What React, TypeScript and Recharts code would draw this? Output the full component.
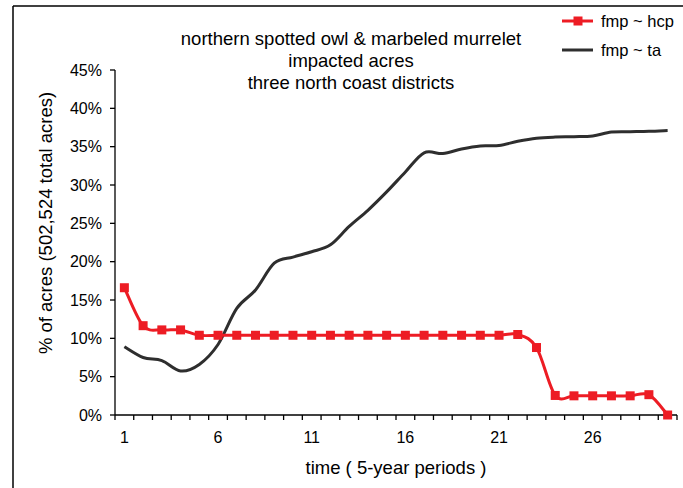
import { LineChart, Line, XAxis, YAxis } from "recharts";

// periods (5-year) and % of acres impacted
const periods = [
  1, 2, 3, 4, 5, 6, 7, 8, 9, 10, 11, 12, 13, 14, 15, 16, 17, 18, 19, 20, 21,
  22, 23, 24, 25, 26, 27, 28, 29, 30,
];
const fmpHcp = [
  16.6, 11.65, 11.1, 11.1, 10.4, 10.4, 10.4, 10.4, 10.4, 10.4, 10.4, 10.4,
  10.4, 10.4, 10.4, 10.4, 10.4, 10.4, 10.4, 10.4, 10.4, 10.5, 8.8, 2.55, 2.5,
  2.5, 2.5, 2.5, 2.65, 0,
];
const fmpTa = [
  8.9, 7.5, 7.1, 5.75, 6.6, 9.2, 13.9, 16.3, 19.8, 20.6, 21.3, 22.2, 24.6,
  26.7, 29.1, 31.7, 34.2, 34.1, 34.7, 35.1, 35.15, 35.7, 36.1, 36.25, 36.3,
  36.4, 36.9, 36.95, 37.0, 37.1,
];
const yTicks = [0, 5, 10, 15, 20, 25, 30, 35, 40, 45];
const xTickLabels = [1, 6, 11, 16, 21, 26];
const titleLines = [
  "northern spotted owl & marbeled murrelet",
  "impacted acres",
  "three north coast districts",
];

const data = periods.map((p, i) => ({ period: p, hcp: fmpHcp[i], ta: fmpTa[i] }));
// tick marks sit between the periods, like excel's category axis
const bounds = [...periods.map((p) => p - 0.5), periods[periods.length - 1] + 0.5];

const RED = "#ed1c24";
const DARK = "#2e2e2e";
const FONT = "'Liberation Sans', Arial, sans-serif";

const W = 683;
const H = 488;
const margin = { top: 70, right: 6, bottom: 43, left: 55 };
const Y_AXIS_W = 60;
const bandW = (W - margin.left - Y_AXIS_W - margin.right) / periods.length;

// excel-like smoothed line (catmull-rom through the points)
const smooth = (context: any) => {
  let pts: number[][] = [];
  return {
    areaStart() {},
    areaEnd() {},
    lineStart() {
      pts = [];
    },
    point(x: number, y: number) {
      pts.push([x, y]);
    },
    lineEnd() {
      if (!pts.length) return;
      context.moveTo(pts[0][0], pts[0][1]);
      for (let i = 0; i < pts.length - 1; i++) {
        const p0 = pts[Math.max(i - 1, 0)];
        const p1 = pts[i];
        const p2 = pts[i + 1];
        const p3 = pts[Math.min(i + 2, pts.length - 1)];
        context.bezierCurveTo(
          p1[0] + (p2[0] - p0[0]) / 6,
          p1[1] + (p2[1] - p0[1]) / 6,
          p2[0] - (p3[0] - p1[0]) / 6,
          p2[1] - (p3[1] - p1[1]) / 6,
          p2[0],
          p2[1]
        );
      }
    },
  };
};

const SquareDot = (props: any) => {
  const { cx, cy, index } = props;
  return <rect key={`sq-${index}`} x={cx - 4.5} y={cy - 4.5} width={9} height={9} fill={RED} />;
};

// label sits in the middle of the band to the right of the boundary tick
const PeriodTick = (props: any) => {
  const { x, y, payload } = props;
  const label = payload.value + 0.5;
  if (!xTickLabels.includes(label)) return <g />;
  return (
    <text x={x + bandW / 2} y={y} dy="0.71em" textAnchor="middle" fontSize={16} fill="#000">
      {label}
    </text>
  );
};

export default function App() {
  return (
    <div style={{ position: "absolute", left: 0, top: 0, width: W, height: H, fontFamily: FONT }}>
      <LineChart width={W} height={H} data={data} margin={margin} style={{ fontFamily: FONT }}>
        <XAxis
          type="number"
          dataKey="period"
          domain={[0.5, 30.5]}
          ticks={bounds}
          interval={0}
          height={30}
          tickSize={5}
          tickMargin={11.6}
          tick={PeriodTick}
          axisLine={{ stroke: "#000", strokeWidth: 1.3 }}
          tickLine={{ stroke: "#000", strokeWidth: 1.3 }}
        />
        <YAxis
          domain={[0, 45]}
          ticks={yTicks}
          interval={0}
          width={Y_AXIS_W}
          tickSize={5}
          tickMargin={8}
          tickFormatter={(v: number) => `${v}%`}
          tick={{ fill: "#000", fontSize: 16 }}
          axisLine={{ stroke: "#000", strokeWidth: 1.3 }}
          tickLine={{ stroke: "#000", strokeWidth: 1.3 }}
        />
        <Line
          dataKey="ta"
          name="fmp ~ ta"
          type={smooth as any}
          stroke={DARK}
          strokeWidth={3}
          dot={false}
          activeDot={false}
          isAnimationActive={false}
        />
        <Line
          dataKey="hcp"
          name="fmp ~ hcp"
          type={smooth as any}
          stroke={RED}
          strokeWidth={3}
          dot={SquareDot}
          activeDot={false}
          isAnimationActive={false}
        />
      </LineChart>
      <svg
        width={W}
        height={H}
        style={{ position: "absolute", left: 0, top: 0, pointerEvents: "none", fontFamily: FONT }}
      >
        <line x1={13} y1={6} x2={W} y2={6} stroke="#000" strokeWidth={1.5} />
        <line x1={13} y1={6} x2={13} y2={H} stroke="#000" strokeWidth={1.5} />
        {titleLines.map((t, i) => (
          <text key={t} x={351} y={45 + i * 22} textAnchor="middle" fontSize={18.5} fill="#000">
            {t}
          </text>
        ))}
        <line x1={562} y1={21} x2={593} y2={21} stroke={RED} strokeWidth={3} />
        <rect x={573.5} y={16.5} width={9} height={9} fill={RED} />
        <text x={601} y={27} fontSize={16.5} fill="#000">
          fmp ~ hcp
        </text>
        <line x1={562} y1={50} x2={593} y2={50} stroke={DARK} strokeWidth={3} />
        <text x={601} y={56} fontSize={16.5} fill="#000">
          fmp ~ ta
        </text>
        <text x={52} y={223} textAnchor="middle" fontSize={18.5} fill="#000" transform="rotate(-90 52 223)">
          % of acres (502,524 total acres)
        </text>
        <text x={396} y={474} textAnchor="middle" fontSize={18.5} fill="#000">
          time ( 5-year periods )
        </text>
      </svg>
    </div>
  );
}
